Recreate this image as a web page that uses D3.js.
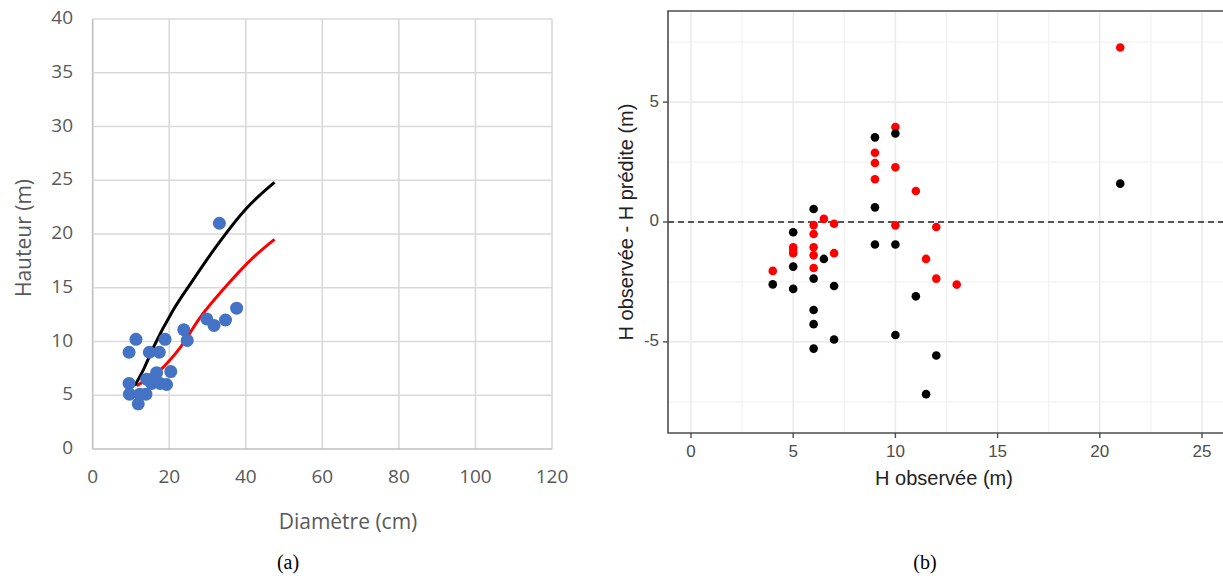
<!DOCTYPE html>
<html>
<head>
<meta charset="utf-8">
<script src="https://cdn.jsdelivr.net/npm/d3@7"></script>
<style>
  html, body { margin: 0; padding: 0; background: #fff; }
  svg { display: block; }
</style>
</head>
<body>
<svg id="chart" width="1223" height="579"></svg>
<script>
// ---------- Panel (a) data ----------
const diametre = [33.1, 37.6, 34.7, 29.8, 31.7, 23.8, 24.7, 11.3, 18.9, 9.5, 14.8, 17.4,
                  20.4, 16.7, 9.5, 14.1, 15.4, 17.6, 19.3, 9.6, 12.3, 13.9, 11.9, 16.0];
const hauteur  = [21.0, 13.1, 12.0, 12.1, 11.5, 11.1, 10.1, 10.2, 10.2, 9.0, 9.0, 9.0,
                  7.2, 7.1, 6.1, 6.5, 6.1, 6.1, 6.0, 5.1, 5.1, 5.1, 4.2, 6.6];
const courbeNoireD = [11, 13, 15.8, 21, 25.8, 32.4, 40.2, 47.5];
const courbeNoireH = [5.9, 7.2, 9.4, 12.9, 15.5, 18.9, 22.4, 24.8];
const courbeRougeD = [11.5, 18.4, 22.8, 28, 35, 41.9, 47.5];
const courbeRougeH = [5.9, 7.6, 9.4, 12.2, 15.2, 17.8, 19.5];
const ticksXa = [0, 20, 40, 60, 80, 100, 120];
const ticksYa = [0, 5, 10, 15, 20, 25, 30, 35, 40];

// ---------- Panel (b) data ----------
const hObsRouge = [4, 5, 5, 5, 6, 6, 6, 6, 6, 6.5, 7, 7, 9, 9, 9, 10, 10, 10, 11, 11.5, 12, 12, 13, 21];
const residuRouge = [-2.04, -1.05, -1.17, -1.3, -0.13, -0.5, -1.05, -1.39, -1.92, 0.13, -0.07, -1.3,
                     2.89, 2.46, 1.78, 3.96, 2.28, -0.14, 1.29, -1.54, -0.21, -2.36, -2.61, 7.28];
const hObsNoir = [4, 5, 5, 5, 6, 6, 6, 6, 6, 6.5, 7, 7, 9, 9, 9, 10, 10, 10, 11, 11.5, 12, 21];
const residuNoir = [-2.6, -0.43, -1.86, -2.79, 0.54, -2.36, -3.67, -4.26, -5.28, -1.54, -2.67, -4.9,
                    3.53, 0.61, -0.94, 3.69, -0.94, -4.71, -3.1, -7.18, -5.57, 1.6];
const ticksXb = [0, 5, 10, 15, 20, 25];
const minorXb = [2.5, 7.5, 12.5, 17.5, 22.5];
const ticksYb = [-5, 0, 5];
const minorYb = [-7.5, -2.5, 2.5, 7.5];

const svg = d3.select("#chart");

// ================= Panel (a) =================
const xa = d3.scaleLinear().domain([0, 120]).range([92.7, 552]);
const ya = d3.scaleLinear().domain([0, 40]).range([449, 19]);
const ga = svg.append("g");
const gridCol = "#d9d9d9";

ga.selectAll("line.vg").data(ticksXa).join("line")
  .attr("x1", d => xa(d)).attr("x2", d => xa(d))
  .attr("y1", ya(40)).attr("y2", ya(0))
  .attr("stroke", d => d === 0 ? "#bfbfbf" : gridCol).attr("stroke-width", 1.6);
ga.selectAll("line.hg").data(ticksYa).join("line")
  .attr("x1", xa(0)).attr("x2", xa(120))
  .attr("y1", d => ya(d)).attr("y2", d => ya(d))
  .attr("stroke", d => d === 0 ? "#bfbfbf" : gridCol).attr("stroke-width", 1.6);

const tickFontA = "'Open Sans', 'Noto Sans', sans-serif";
ga.selectAll("text.xt").data(ticksXa).join("text")
  .attr("x", d => xa(d)).attr("y", 478)
  .attr("text-anchor", "middle").attr("dominant-baseline", "middle")
  .attr("font-family", tickFontA).attr("font-size", 19).attr("fill", "#595959")
  .text(d => d);
ga.selectAll("text.yt").data(ticksYa).join("text")
  .attr("x", 73).attr("y", d => ya(d))
  .attr("text-anchor", "end").attr("dominant-baseline", "middle")
  .attr("font-family", tickFontA).attr("font-size", 19).attr("fill", "#595959")
  .text(d => d);

ga.append("text").attr("x", 348).attr("y", 523)
  .attr("text-anchor", "middle").attr("dominant-baseline", "middle")
  .attr("font-family", tickFontA).attr("font-size", 21).attr("fill", "#595959")
  .text("Diamètre (cm)");
ga.append("text").attr("transform", "translate(25,238) rotate(-90)")
  .attr("text-anchor", "middle").attr("dominant-baseline", "middle")
  .attr("font-family", tickFontA).attr("font-size", 21).attr("fill", "#595959")
  .text("Hauteur (m)");

const lineA = d3.line().x(d => xa(d[0])).y(d => ya(d[1])).curve(d3.curveMonotoneX);
ga.append("path").datum(courbeRougeD.map((d, i) => [d, courbeRougeH[i]]))
  .attr("d", lineA).attr("fill", "none").attr("stroke", "#ff0000").attr("stroke-width", 3);
ga.append("path").datum(courbeNoireD.map((d, i) => [d, courbeNoireH[i]]))
  .attr("d", lineA).attr("fill", "none").attr("stroke", "#000").attr("stroke-width", 3);

ga.selectAll("circle").data(diametre.map((d, i) => [d, hauteur[i]])).join("circle")
  .attr("cx", d => xa(d[0])).attr("cy", d => ya(d[1])).attr("r", 6.5)
  .attr("fill", "#4472c4");

// ================= Panel (b) =================
const xb = d3.scaleLinear().domain([0, 25]).range([691, 1202]);
const yb = d3.scaleLinear().domain([-8.8, 8.8]).range([433, 11]);
const gb = svg.append("g");
const left = 668, right = 1240;

gb.append("rect").attr("x", left).attr("y", yb(8.8)).attr("width", right - left)
  .attr("height", yb(-8.8) - yb(8.8)).attr("fill", "#fff");

gb.selectAll("line.mx").data(minorXb).join("line")
  .attr("x1", d => xb(d)).attr("x2", d => xb(d)).attr("y1", yb(8.8)).attr("y2", yb(-8.8))
  .attr("stroke", "#f2f2f2").attr("stroke-width", 1.2);
gb.selectAll("line.my").data(minorYb).join("line")
  .attr("x1", left).attr("x2", right).attr("y1", d => yb(d)).attr("y2", d => yb(d))
  .attr("stroke", "#f2f2f2").attr("stroke-width", 1.2);
gb.selectAll("line.gx").data(ticksXb).join("line")
  .attr("x1", d => xb(d)).attr("x2", d => xb(d)).attr("y1", yb(8.8)).attr("y2", yb(-8.8))
  .attr("stroke", "#ebebeb").attr("stroke-width", 1.6);
gb.selectAll("line.gy").data(ticksYb).join("line")
  .attr("x1", left).attr("x2", right).attr("y1", d => yb(d)).attr("y2", d => yb(d))
  .attr("stroke", "#ebebeb").attr("stroke-width", 1.6);

// dashed zero line
gb.append("line").attr("x1", left).attr("x2", right).attr("y1", yb(0)).attr("y2", yb(0))
  .attr("stroke", "#222").attr("stroke-width", 1.5).attr("stroke-dasharray", "6,4");

// points
gb.selectAll("circle.r").data(hObsRouge.map((d, i) => [d, residuRouge[i]])).join("circle")
  .attr("cx", d => xb(d[0])).attr("cy", d => yb(d[1])).attr("r", 4.3)
  .attr("fill", "#ff0000");
gb.selectAll("circle.n").data(hObsNoir.map((d, i) => [d, residuNoir[i]])).join("circle")
  .attr("class", "n")
  .attr("cx", d => xb(d[0])).attr("cy", d => yb(d[1])).attr("r", 4.3)
  .attr("fill", "#000");

// border (left, top, bottom)
gb.append("path")
  .attr("d", `M${right},${yb(8.8)} L${left},${yb(8.8)} L${left},${yb(-8.8)} L${right},${yb(-8.8)}`)
  .attr("fill", "none").attr("stroke", "#4d4d4d").attr("stroke-width", 1.6);

// ticks
gb.selectAll("line.tx").data(ticksXb).join("line")
  .attr("x1", d => xb(d)).attr("x2", d => xb(d)).attr("y1", yb(-8.8)).attr("y2", yb(-8.8) + 5)
  .attr("stroke", "#4d4d4d").attr("stroke-width", 1.4);
gb.selectAll("line.ty").data(ticksYb).join("line")
  .attr("x1", left - 5).attr("x2", left).attr("y1", d => yb(d)).attr("y2", d => yb(d))
  .attr("stroke", "#4d4d4d").attr("stroke-width", 1.4);

const fontB = "'Liberation Sans', Arial, sans-serif";
gb.selectAll("text.xt").data(ticksXb).join("text")
  .attr("x", d => xb(d)).attr("y", 453)
  .attr("text-anchor", "middle").attr("dominant-baseline", "middle")
  .attr("font-family", fontB).attr("font-size", 17).attr("fill", "#4d4d4d")
  .text(d => d);
gb.selectAll("text.yt").data(ticksYb).join("text")
  .attr("x", 659).attr("y", d => yb(d))
  .attr("text-anchor", "end").attr("dominant-baseline", "middle")
  .attr("font-family", fontB).attr("font-size", 17).attr("fill", "#4d4d4d")
  .text(d => d);

gb.append("text").attr("x", 944).attr("y", 480)
  .attr("text-anchor", "middle").attr("dominant-baseline", "middle")
  .attr("font-family", fontB).attr("font-size", 20).attr("fill", "#222")
  .text("H observée (m)");
gb.append("text").attr("transform", "translate(628,222) rotate(-90)")
  .attr("text-anchor", "middle").attr("dominant-baseline", "middle")
  .attr("font-family", fontB).attr("font-size", 20).attr("fill", "#222")
  .text("H observée - H prédite (m)");

// captions
const capFont = "'Liberation Serif', 'Times New Roman', serif";
svg.append("text").attr("x", 288).attr("y", 564)
  .attr("text-anchor", "middle").attr("dominant-baseline", "middle")
  .attr("font-family", capFont).attr("font-size", 20).attr("fill", "#000").text("(a)");
svg.append("text").attr("x", 925).attr("y", 564)
  .attr("text-anchor", "middle").attr("dominant-baseline", "middle")
  .attr("font-family", capFont).attr("font-size", 20).attr("fill", "#000").text("(b)");
</script>
</body>
</html>
